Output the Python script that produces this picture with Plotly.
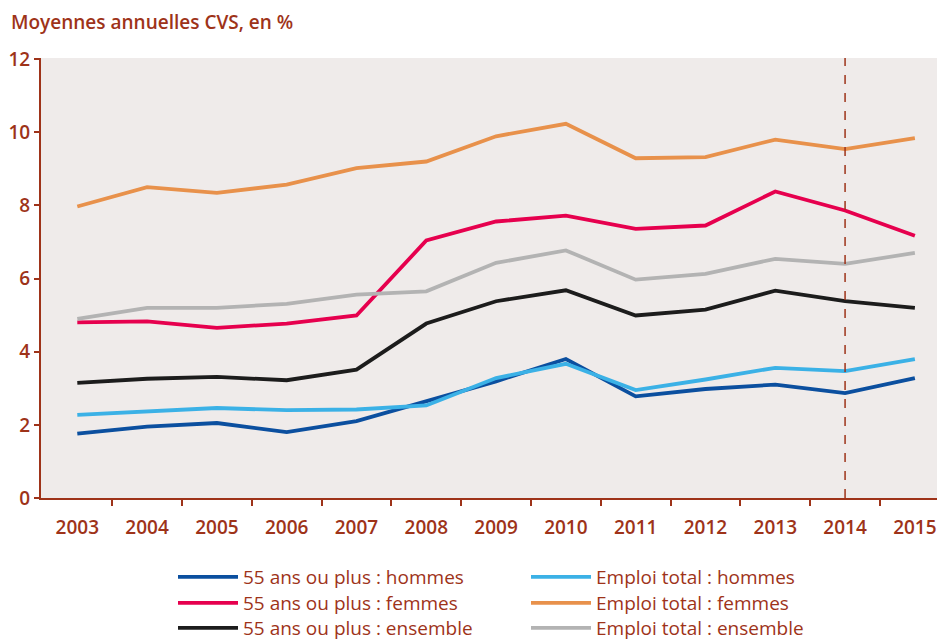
import plotly.graph_objects as go

years = list(range(2003, 2016))

s55_hommes = [1.76, 1.95, 2.05, 1.80, 2.10, 2.64, 3.19, 3.80, 2.78, 2.98, 3.10, 2.87, 3.28]
s55_femmes = [4.80, 4.83, 4.65, 4.77, 4.99, 7.04, 7.56, 7.72, 7.36, 7.45, 8.38, 7.86, 7.17]
s55_ensemble = [3.15, 3.26, 3.31, 3.22, 3.51, 4.77, 5.38, 5.68, 4.99, 5.15, 5.67, 5.38, 5.20]
et_hommes = [2.27, 2.37, 2.46, 2.40, 2.42, 2.53, 3.28, 3.67, 2.95, 3.24, 3.56, 3.47, 3.80]
et_femmes = [7.97, 8.50, 8.34, 8.57, 9.02, 9.20, 9.89, 10.23, 9.29, 9.32, 9.80, 9.54, 9.84]
et_ensemble = [4.90, 5.20, 5.20, 5.31, 5.56, 5.65, 6.43, 6.77, 5.97, 6.13, 6.54, 6.40, 6.70]

names = ["55 ans ou plus : hommes", "Emploi total : hommes",
         "55 ans ou plus : femmes", "Emploi total : femmes",
         "55 ans ou plus : ensemble", "Emploi total : ensemble"]
series = [s55_hommes, et_hommes, s55_femmes, et_femmes, s55_ensemble, et_ensemble]
colors = ["#0b4f9f", "#3bb1e6", "#e6004e", "#e8914b", "#1c1c1c", "#b3b3b3"]
legends = ["legend", "legend", "legend2", "legend2", "legend3", "legend3"]

red = "#9e3319"
font_family = "Open Sans"

fig = go.Figure()
for name, vals, col, lg in zip(names, series, colors, legends):
    fig.add_trace(go.Scatter(x=years, y=vals, mode="lines", name=name,
                             line=dict(color=col, width=3.8), legend=lg))

fig.add_shape(type="line", x0=2014, x1=2014, y0=0, y1=1, xref="x", yref="paper",
              line=dict(color=red, width=1.5, dash="dash"))

# plot area in page pixels: x 41..940 (899 wide), y 58..498 (440 tall)
def px_x(p):
    return (p - 41) / 899

def px_y(p):
    return (498 - p) / 440

legend_common = dict(orientation="h", xref="paper", yref="paper",
                     yanchor="middle", xanchor="left", bgcolor="rgba(0,0,0,0)",
                     font=dict(family=font_family, size=19, color=red),
                     itemwidth=60, entrywidth=278, entrywidthmode="pixels")

fig.update_layout(
    width=937, height=632,
    margin=dict(l=33, r=5, t=50, b=142, autoexpand=False),
    paper_bgcolor="white", plot_bgcolor="#efebea",
    font=dict(family=font_family, color=red),
    showlegend=True,
    legend=dict(x=px_x(173), y=px_y(577), **legend_common),
    legend2=dict(x=px_x(173), y=px_y(603), **legend_common),
    legend3=dict(x=px_x(173), y=px_y(628), **legend_common),
    annotations=[dict(text="Moyennes annuelles CVS, en %", xref="paper", yref="paper",
                      x=px_x(9), y=px_y(22), xanchor="left", yanchor="middle",
                      showarrow=False,
                      font=dict(family=font_family, size=19, color=red, weight=600))],
    xaxis=dict(range=[2002.48, 2015.36], tickvals=years, ticktext=[str(y) for y in years],
               showgrid=False, zeroline=False, showline=True, linecolor=red, linewidth=2,
               ticks="outside", ticklen=0, ticklabelstandoff=11,
               tickfont=dict(family=font_family, size=19, color=red, weight=600),
               minor=dict(tickvals=[y + 0.5 for y in years[:-1]], ticks="outside",
                          ticklen=6, tickcolor=red, tickwidth=1.5, showgrid=False)),
    yaxis=dict(range=[0, 12.03], tickvals=[0, 2, 4, 6, 8, 10, 12], showgrid=False,
               zeroline=False, showline=True, linecolor=red, linewidth=2,
               ticks="outside", ticklen=5, tickcolor=red, tickwidth=1.5,
               tickfont=dict(family=font_family, size=19, color=red, weight=600)),
)

fig.write_html("out.html")
